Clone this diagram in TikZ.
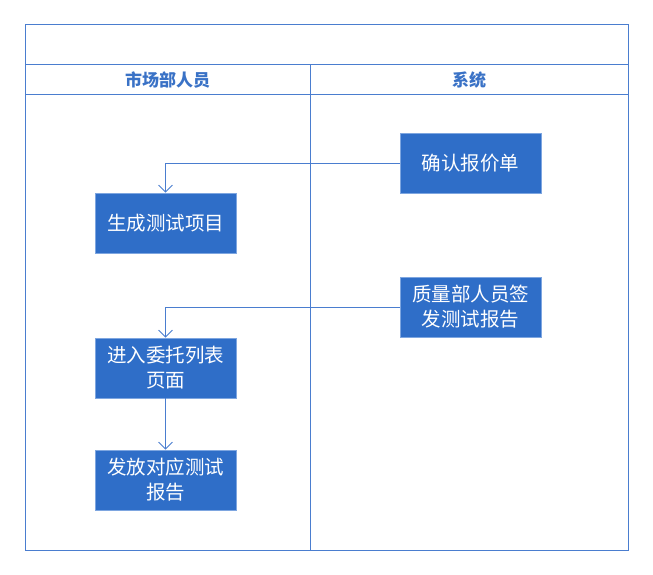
\documentclass[tikz,border=0pt]{standalone}
\usepackage{fontspec}
\newfontfamily\cjk{Noto Sans CJK SC}
\usetikzlibrary{arrows.meta}
\definecolor{frameblue}{HTML}{4A7DCF}
\definecolor{boxblue}{HTML}{2F6EC8}
\definecolor{boxedge}{HTML}{7EA6E0}
\definecolor{headblue}{HTML}{3A72C6}
\tikzset{
  lane/.style={draw=frameblue, line width=1pt},
  stepbox/.style={draw=boxedge, fill=boxblue, line width=0.8pt, minimum width=141pt, minimum height=60pt, inner sep=0pt,
    text=white, font=\cjk\fontsize{19.5}{25}\selectfont, align=center, text width=138pt},
  headtxt/.style={text=headblue, font=\cjk\bfseries\fontsize{17}{20}\selectfont},
  conn/.style={draw=frameblue, line width=0.8pt, -{Straight Barb[length=7pt,width=14pt,line width=0.8pt]}},
}
\begin{document}
\begin{tikzpicture}[x=1pt,y=-1pt]
\useasboundingbox (0,0) rectangle (653,575);
% frame
\draw[lane] (25,25) rectangle (628,550);
\draw[lane] (25,65) -- (628,65);
\draw[lane] (25,95) -- (628,95);
\draw[lane] (310,65) -- (310,550);
\node[headtxt] (h1) at (167.5,80) {市场部人员};
\node[headtxt] (h2) at (469,80) {系统};
% boxes
\node[stepbox] (a) at (470.5,163) {确认报价单};
\node[stepbox] (b) at (165.5,223) {生成测试项目};
\node[stepbox] (c) at (470.5,307) {质量部人员签\\发测试报告};
\node[stepbox] (d) at (165.5,368) {进入委托列表\\页面};
\node[stepbox] (e) at (165.5,480) {发放对应测试\\报告};
% connectors
\draw[conn] (a.west) -| (b.north);
\draw[conn] (c.west) -| (d.north);
\draw[conn] (d.south) -- (e.north);
\end{tikzpicture}
\end{document}
